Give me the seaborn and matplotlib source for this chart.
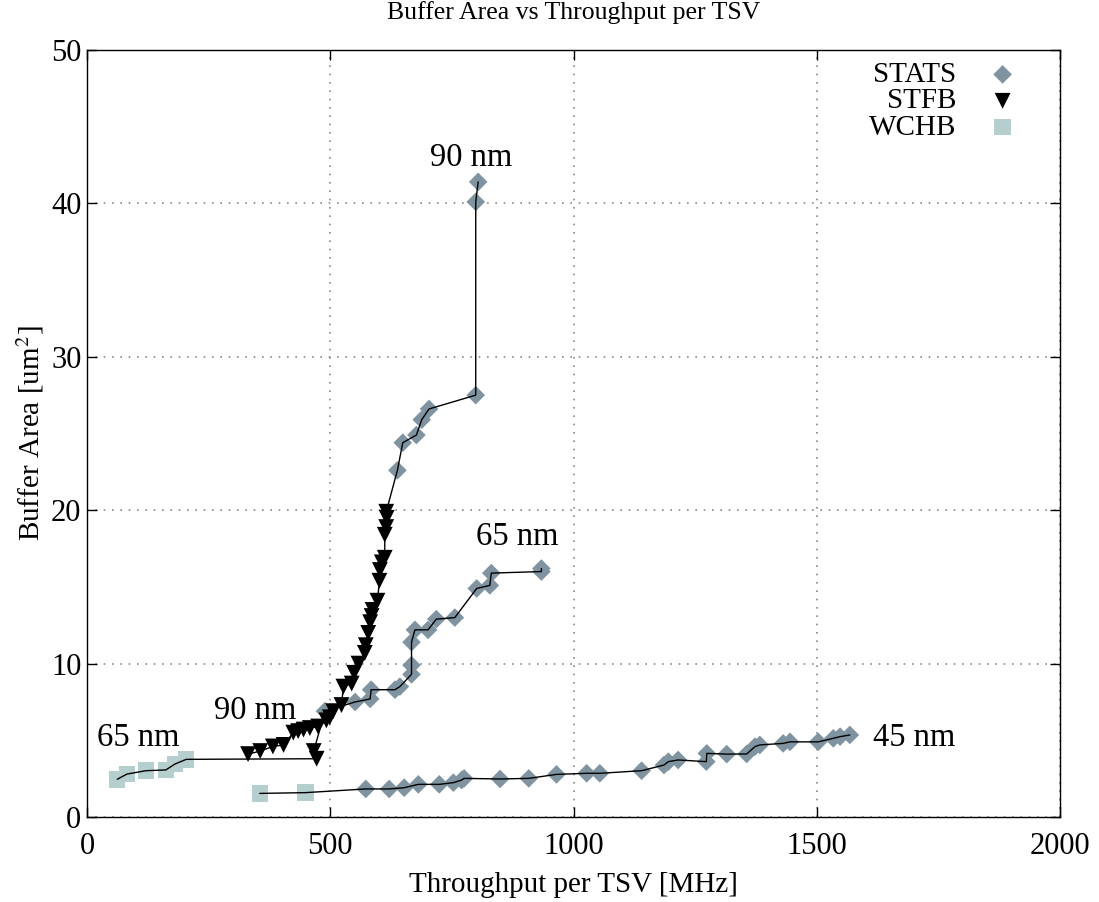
import matplotlib
matplotlib.use("Agg")
import matplotlib.pyplot as plt
import seaborn as sns
import pandas as pd

# ---------------- data ----------------
# STATS design
stats90_x = [638, 649, 677, 688, 703, 799, 799, 804]
stats90_y = [22.6, 24.4, 24.9, 25.9, 26.6, 27.5, 40.1, 41.4]
stats65_x = [489, 551, 582, 584, 633, 643, 667, 667, 667, 674, 701, 718, 756, 801, 828, 831, 934, 934]
stats65_y = [6.9, 7.5, 7.7, 8.3, 8.3, 8.5, 9.3, 9.9, 11.4, 12.2, 12.2, 12.9, 13.0, 14.9, 15.1, 15.9, 16.0, 16.2]
stats45_x = [573, 621, 652, 681, 724, 753, 770, 775, 849, 908, 965, 1027, 1054, 1140, 1186, 1195,
             1215, 1273, 1274, 1315, 1356, 1373, 1383, 1431, 1445, 1503, 1534, 1548, 1568]
stats45_y = [1.83, 1.83, 1.91, 2.13, 2.13, 2.24, 2.41, 2.52, 2.48, 2.52, 2.78, 2.85, 2.85, 3.02, 3.39, 3.61,
             3.72, 3.61, 4.15, 4.10, 4.11, 4.59, 4.70, 4.80, 4.90, 4.90, 5.13, 5.24, 5.35]
# STFB design
stfb90_x = [331, 356, 382, 404, 424, 434, 445, 458, 475, 492, 499, 506, 523, 527, 544, 549, 558,
            571, 573, 578, 582, 585, 587, 597, 601, 602, 606, 612, 612, 615, 616, 615]
stfb90_y = [4.1, 4.3, 4.6, 4.7, 5.5, 5.6, 5.7, 5.8, 5.9, 6.3, 6.5, 6.9, 7.3, 8.5, 8.7, 9.4, 10.0,
            10.7, 11.2, 12.0, 12.7, 13.1, 13.5, 14.1, 15.4, 16.1, 16.6, 16.9, 18.4, 18.9, 19.5, 19.9]
stfb65_x = [472, 466]
stfb65_y = [3.8, 4.3]
# WCHB design
wchb65_x = [62, 82, 121, 162, 181, 204]
wchb65_y = [2.46, 2.8, 3.02, 3.07, 3.46, 3.76]
wchb45_x = [355, 449]
wchb45_y = [1.54, 1.59]

# annotation labels
labels = ["90 nm", "65 nm", "45 nm", "90 nm", "65 nm"]
label_x = [789, 884, 1700, 345, 105]
label_y = [43.0, 18.3, 5.15, 6.9, 5.15]

# ---------------- figure ----------------
sns.set_theme(style="ticks")
plt.rcParams["font.family"] = ["Liberation Serif", "DejaVu Serif"]
plt.rcParams["mathtext.fontset"] = "stix"
plt.rcParams["text.color"] = "black"
plt.rcParams["axes.labelcolor"] = "black"
plt.rcParams["xtick.color"] = "black"
plt.rcParams["ytick.color"] = "black"

fig = plt.figure(figsize=(10.99, 9.02), dpi=100)
ax = fig.add_axes([0.0792, 0.0942, 0.8853, 0.8504])

c_stats = "#7f93a1"
c_stfb = "#000000"
c_wchb = "#b5cfce"

# lines per technology node (connect all designs of a node)
lines = [
    (stfb90_x + stats90_x, stfb90_y + stats90_y),
    (wchb65_x + stfb65_x + stats65_x, wchb65_y + stfb65_y + stats65_y),
    (wchb45_x + stats45_x, wchb45_y + stats45_y),
]
for lx, ly in lines:
    df = pd.DataFrame({"x": lx, "y": ly})
    sns.lineplot(data=df, x="x", y="y", sort=False, estimator=None, color="black",
                 lw=1.0, ax=ax, zorder=3)

def pts(xs, ys):
    return pd.DataFrame({"x": xs, "y": ys})

sns.scatterplot(data=pts(stats90_x + stats65_x + stats45_x, stats90_y + stats65_y + stats45_y),
                x="x", y="y", marker="D", s=90, color=c_stats, edgecolor="none",
                ax=ax, zorder=2, label="STATS")
sns.scatterplot(data=pts(stfb90_x + stfb65_x, stfb90_y + stfb65_y),
                x="x", y="y", marker="v", s=130, color=c_stfb, edgecolor="none",
                ax=ax, zorder=2, label="STFB")
sns.scatterplot(data=pts(wchb65_x + wchb45_x, wchb65_y + wchb45_y),
                x="x", y="y", marker="s", s=140, color=c_wchb, edgecolor="none",
                ax=ax, zorder=2, label="WCHB")

for t, tx, ty in zip(labels, label_x, label_y):
    ax.text(tx, ty, t, ha="center", va="center", fontsize=23.5)

ax.set_xlim(0, 2000)
ax.set_ylim(0, 50)
ax.set_xticks([0, 500, 1000, 1500, 2000])
ax.set_yticks([0, 10, 20, 30, 40, 50])
ax.tick_params(direction="in", top=True, right=True, length=7, width=1,
               labelsize=22, colors="black")
ax.tick_params(axis="x", pad=11)
ax.tick_params(axis="y", pad=4)
ax.grid(True, linestyle=(0, (1, 4)), color="#888888", lw=1.2)
for sp in ax.spines.values():
    sp.set_color("black")
    sp.set_linewidth(1.0)

ax.set_xlabel("Throughput per TSV [MHz]", fontsize=21, labelpad=8)
ax.set_ylabel("Buffer Area [um$^2$]", fontsize=21, labelpad=4)
ax.set_title("Buffer Area vs Throughput per TSV", fontsize=18.5, pad=22)

leg = ax.legend(loc="upper right", frameon=False, markerfirst=False, fontsize=21,
                handletextpad=0.6, labelspacing=0.0, borderaxespad=0.0,
                bbox_to_anchor=(0.983, 1.0))

fig.savefig("out.png", dpi=100)
